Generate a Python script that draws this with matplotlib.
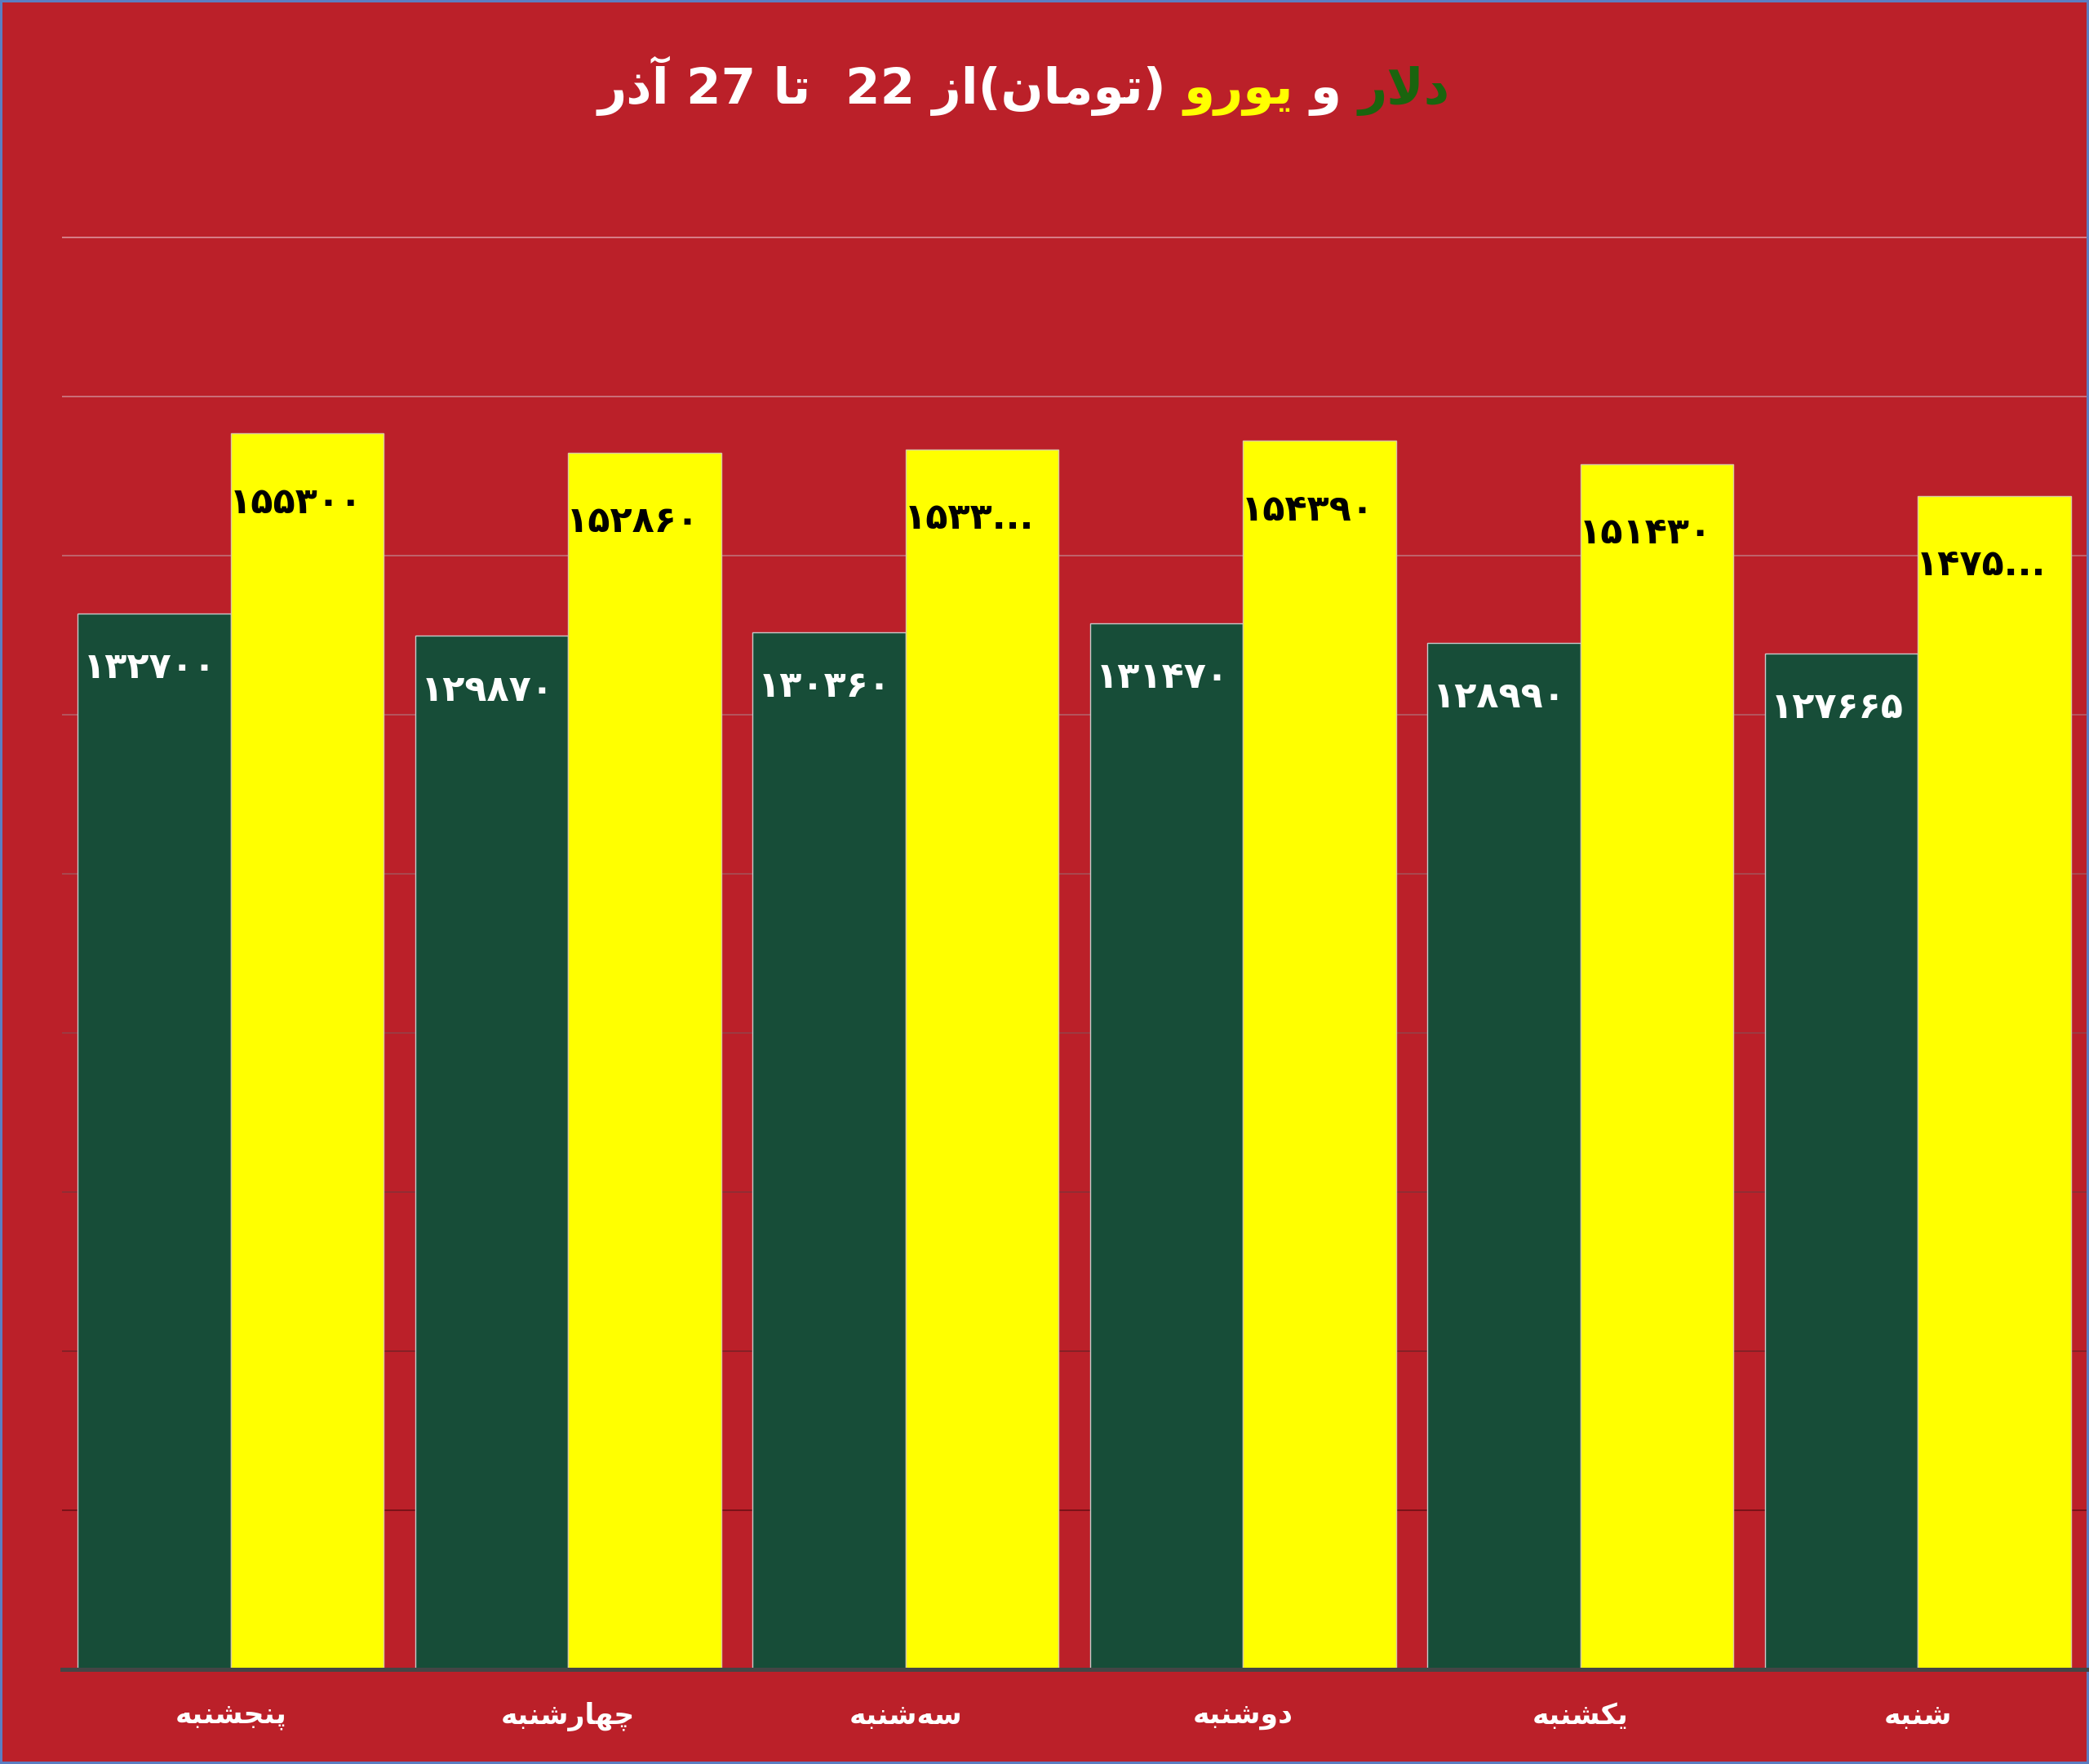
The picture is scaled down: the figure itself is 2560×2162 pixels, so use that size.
import re
import matplotlib
matplotlib.use('Agg')
import matplotlib.pyplot as plt
import numpy as np
from matplotlib.colors import to_rgb

# data (left to right as in the picture)
days = ['پنجشنبه', 'چهارشنبه', 'سه\u200cشنبه', 'دوشنبه', 'یکشنبه', 'شنبه']
dollar = [132700, 129870, 130360, 131470, 128990, 127665]
euro = [155300, 152860, 153300, 154390, 151430, 147500]
euro_cut = [False, False, True, False, False, True]

title_parts = ['دلار', 'و', 'یورو', '(تومان)از 22  تا 27 آذر']

bg = '#bb2029'
green = '#174d38'
yellow = '#ffff00'

# --- tiny persian shaper (presentation forms + visual order) ---
FORMS = {
    '\u0627': (0xFE8D, 0xFE8E), '\u0622': (0xFE81, 0xFE82),
    '\u062F': (0xFEA9, 0xFEAA), '\u0630': (0xFEAB, 0xFEAC),
    '\u0631': (0xFEAD, 0xFEAE), '\u0632': (0xFEAF, 0xFEB0),
    '\u0648': (0xFEED, 0xFEEE),
    '\u0628': (0xFE8F, 0xFE90, 0xFE91, 0xFE92),
    '\u067E': (0xFB56, 0xFB57, 0xFB58, 0xFB59),
    '\u062A': (0xFE95, 0xFE96, 0xFE97, 0xFE98),
    '\u062C': (0xFE9D, 0xFE9E, 0xFE9F, 0xFEA0),
    '\u0686': (0xFB7A, 0xFB7B, 0xFB7C, 0xFB7D),
    '\u0633': (0xFEB1, 0xFEB2, 0xFEB3, 0xFEB4),
    '\u0634': (0xFEB5, 0xFEB6, 0xFEB7, 0xFEB8),
    '\u06A9': (0xFB8E, 0xFB8F, 0xFB90, 0xFB91),
    '\u0644': (0xFEDD, 0xFEDE, 0xFEDF, 0xFEE0),
    '\u0645': (0xFEE1, 0xFEE2, 0xFEE3, 0xFEE4),
    '\u0646': (0xFEE5, 0xFEE6, 0xFEE7, 0xFEE8),
    '\u0647': (0xFEE9, 0xFEEA, 0xFEEB, 0xFEEC),
    '\u06CC': (0xFBFC, 0xFBFD, 0xFBFE, 0xFBFF),
}


def fa(s):
    out = []
    n = len(s)
    i = 0
    while i < n:
        c = s[i]
        if c not in FORMS:
            if c != '\u200c':
                out.append(c)
            i += 1
            continue
        prev = s[i - 1] if i > 0 else ''
        nxt = s[i + 1] if i + 1 < n else ''
        jp = prev in FORMS and len(FORMS[prev]) == 4
        if c == '\u0644' and nxt == '\u0627':
            out.append(chr(0xFEFC if jp else 0xFEFB))
            i += 2
            continue
        jn = len(FORMS[c]) == 4 and nxt in FORMS
        f = FORMS[c]
        if jp and jn:
            out.append(chr(f[3]))
        elif jp:
            out.append(chr(f[1]))
        elif jn:
            out.append(chr(f[2]))
        else:
            out.append(chr(f[0]))
        i += 1
    vis = ''.join(out)[::-1]
    vis = re.sub(r'\d+', lambda m: m.group(0)[::-1], vis)
    vis = vis.translate(str.maketrans('()', ')('))
    return vis


def fa_num(v):
    return str(v).translate(str.maketrans('0123456789', '۰۱۲۳۴۵۶۷۸۹'))


W, H = 2560, 2162
fig = plt.figure(figsize=(W / 100, H / 100), dpi=100)
fig.patch.set_facecolor(bg)
fig.patch.set_edgecolor('#5b7dc2')
fig.patch.set_linewidth(4)

ax = fig.add_axes([76 / W, 116 / H, (2557 - 76) / W, (2046 - 280) / H])
ax.set_facecolor(bg)

x = np.arange(len(days))
w = 0.454
ax.bar(x - w / 2, dollar, w, color=green, edgecolor='#c9c9c9', linewidth=1, zorder=2)
ax.bar(x + w / 2, euro, w, color=yellow, edgecolor='#d9c9a0', linewidth=1, zorder=2)

ax.set_xlim(-0.5, 5.5)
ax.set_ylim(0, 180000 * 1766 / 1755.4)

# gridlines fade from light (top) to dark (bottom)
top_c = np.array(to_rgb('#d77f88'))
bot_c = np.array(to_rgb('#7a1218'))
for v in range(20000, 180001, 20000):
    t = (v - 20000) / 160000
    ax.axhline(v, color=bot_c + (top_c - bot_c) * t, linewidth=1.4, zorder=1)

for s in ['top', 'left', 'right']:
    ax.spines[s].set_visible(False)
ax.spines['bottom'].set_color('#454545')
ax.spines['bottom'].set_linewidth(3.6)
ax.spines['bottom'].set_zorder(3)

ax.set_yticks([])
ax.set_xticks(x)
ax.set_xticklabels([fa(d) for d in days], color='white', fontsize=25,
                   fontweight='bold', family='DejaVu Sans')
ax.tick_params(axis='x', length=0, pad=29)

for i in range(len(days)):
    ax.annotate(fa_num(dollar[i]), xy=(i - w, dollar[i]), xytext=(5, -57),
                textcoords='offset points', ha='left', va='baseline',
                color='white', fontsize=32, fontweight='bold', zorder=4)
    lab = fa_num(euro[i])
    if euro_cut[i]:
        lab = lab[:4] + '...'
    ax.annotate(lab, xy=(i, euro[i]), xytext=(-1.5, -70),
                textcoords='offset points', ha='left', va='baseline',
                color='black', fontsize=32, fontweight='bold', zorder=4)

# title, built right to left in pieces
colors = ['#1a640e', 'white', yellow, 'white']
renderer = fig.canvas.get_renderer()
xr = 1777
ty = (H - 127) / H
for part, c in zip(title_parts, colors):
    t = fig.text(xr / W, ty, fa(part), ha='right', va='baseline', color=c,
                 fontsize=44, fontweight='bold')
    bb = t.get_window_extent(renderer)
    xr = bb.x0 - 21

fig.savefig('out.png', dpi=100, facecolor=bg, edgecolor=fig.patch.get_edgecolor())
